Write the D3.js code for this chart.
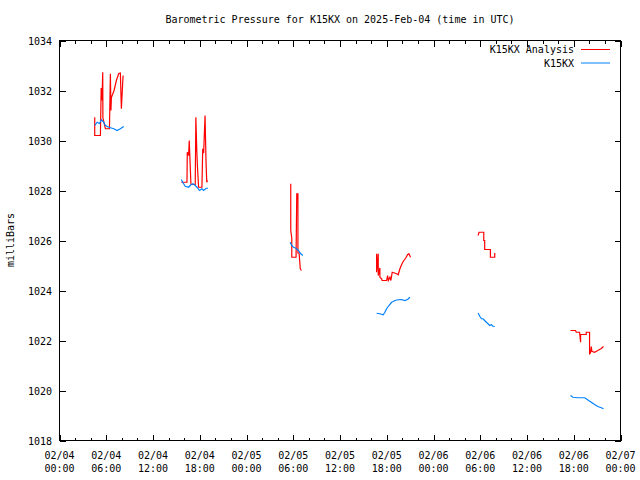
<!DOCTYPE html>
<html><head><meta charset="utf-8">
<script src="https://cdn.jsdelivr.net/npm/d3@7"></script>
<style>
body{margin:0;background:#fff;}
svg text{font-family:"DejaVu Sans Mono","Liberation Mono",monospace;font-size:10px;fill:#000;}
</style>
</head><body>
<svg id="chart" width="640" height="480"></svg>
<script>
// ---- data (hours after 2025-02-04 00:00 UTC; null = gap) ----
const titleText = "Barometric Pressure for K15KX on 2025-Feb-04 (time in UTC)";
const yLabel = "milliBars";
const seriesNames = ["K15KX Analysis", "K15KX"];
const seriesColors = ["#ff0000", "#0080ff"];
const yTicks = [1018,1020,1022,1024,1026,1028,1030,1032,1034];

const analysisHours = [
  4.52,4.52,5.25,5.35,5.45,5.55,5.57,5.89,6.41,6.53,6.60,6.66,7.0,7.3,7.6,7.81,7.94,8.16, null,
  15.63,16.36,16.40,16.57,16.65,16.75,16.87,17.42,17.50,17.62,17.70,17.85,18.28,18.38,18.50,18.68,18.80,18.90,19.0, null,
  29.68,29.68,29.81,29.81,30.36,30.45,30.60,30.60,30.75,30.90,31.05, null,
  40.70,40.70,40.91,40.91,41.12,41.12,41.34,41.40,41.98,42.11,42.20,42.41,42.53,42.70,43.26,43.47,43.69,43.90,44.11,44.42,44.67,44.84,45.06, null,
  53.72,53.84,54.45,54.45,54.57,54.57,55.30,55.30,55.86,55.86, null,
  65.59,66.23,66.32,66.75,66.88,66.88,67.6,67.6,68.03,68.03,68.15,68.25,68.33,68.67,69.09,69.53,69.82
];
const analysisValues = [
  1030.93,1030.2,1030.2,1032.1,1031.6,1032.73,1030.9,1030.47,1030.47,1032.67,1031.2,1031.72,1032.0,1032.4,1032.68,1032.7,1031.27,1032.6, null,
  1028.33,1028.33,1029.53,1029.4,1030.0,1029.2,1028.24,1028.24,1030.93,1029.6,1029.0,1028.13,1028.13,1029.67,1029.5,1031.0,1029.2,1028.33,1028.4, null,
  1028.27,1026.4,1026.1,1025.33,1025.33,1027.87,1027.87,1025.5,1025.5,1024.87,1024.8, null,
  1025.47,1024.73,1025.47,1024.6,1024.9,1024.53,1024.47,1024.4,1024.4,1024.6,1024.4,1024.53,1024.4,1024.73,1024.67,1024.63,1024.87,1025.03,1025.16,1025.29,1025.43,1025.47,1025.33, null,
  1026.2,1026.33,1026.33,1026.0,1026.0,1025.64,1025.64,1025.33,1025.33,1025.5, null,
  1022.4,1022.4,1022.33,1022.33,1021.93,1022.24,1022.24,1022.33,1022.33,1021.47,1021.5,1021.76,1021.57,1021.53,1021.6,1021.68,1021.76
];

const stationHours = [
  4.52,4.83,5.12,5.38,5.68,5.89,6.32,6.96,7.39,7.81,8.24, null,
  15.63,15.85,16.14,16.57,16.87,17.13,17.42,17.64,17.97,18.28,18.49,18.83,19.05, null,
  29.59,29.81,30.02,30.36,30.66,30.97,31.22, null,
  40.70,41.12,41.55,41.76,41.98,42.28,42.62,42.83,43.05,43.47,43.90,44.32,44.67,44.97, null,
  53.72,53.94,54.15,54.36,54.57,54.79,55.0,55.22,55.43,55.64,55.86, null,
  65.59,65.89,66.53,67.39,67.6,67.9,68.25,68.67,69.09,69.53,69.82
];
const stationValues = [
  1030.6,1030.73,1030.68,1030.83,1030.73,1030.6,1030.53,1030.47,1030.4,1030.47,1030.56, null,
  1028.44,1028.31,1028.17,1028.13,1028.23,1028.27,1028.2,1028.13,1028.0,1028.07,1028.0,1028.09,1028.09, null,
  1025.93,1025.8,1025.73,1025.69,1025.6,1025.47,1025.4, null,
  1023.09,1023.07,1023.03,1023.13,1023.27,1023.4,1023.53,1023.56,1023.6,1023.63,1023.64,1023.6,1023.64,1023.73, null,
  1023.1,1022.97,1022.87,1022.87,1022.8,1022.73,1022.67,1022.6,1022.63,1022.57,1022.56, null,
  1019.8,1019.73,1019.71,1019.71,1019.67,1019.6,1019.53,1019.44,1019.36,1019.31,1019.27
];

// ---- chart ----
const svg = d3.select("#chart");
const L = 59.5, R = 620.5, T = 40.5, B = 440.5;
const t0 = new Date(Date.UTC(2025,1,4,0,0));
const t1 = new Date(Date.UTC(2025,1,7,0,0));
const x = d3.scaleUtc().domain([t0, t1]).range([L, R]);
const y = d3.scaleLinear().domain([1018, 1034]).range([B, T]);
const toDate = h => new Date(t0.getTime() + h * 3600000);

function pts(hs, vs){ return hs.map((h,i)=> h==null ? null : {t: toDate(h), v: vs[i]}); }
const series = [pts(analysisHours, analysisValues), pts(stationHours, stationValues)];

const major = x.ticks(d3.utcHour.every(6));
const minor = x.ticks(d3.utcHour.every(2));

// axes (ticks inward)
const gB = svg.append("g").attr("transform", `translate(0,${B})`)
  .call(d3.axisBottom(x).tickValues(minor).tickSizeInner(-3).tickSizeOuter(0).tickFormat(""));
const gB2 = svg.append("g").attr("transform", `translate(0,${B})`)
  .call(d3.axisBottom(x).tickValues(major).tickSizeInner(-6).tickSizeOuter(0).tickFormat(""));
const gT = svg.append("g").attr("transform", `translate(0,${T})`)
  .call(d3.axisTop(x).tickValues(minor).tickSizeInner(-3).tickSizeOuter(0).tickFormat(""));
const gT2 = svg.append("g").attr("transform", `translate(0,${T})`)
  .call(d3.axisTop(x).tickValues(major).tickSizeInner(-6).tickSizeOuter(0).tickFormat(""));
const gL = svg.append("g").attr("transform", `translate(${L},0)`)
  .call(d3.axisLeft(y).tickValues(yTicks).tickSizeInner(-6).tickSizeOuter(0).tickFormat(""));
const gR = svg.append("g").attr("transform", `translate(${R},0)`)
  .call(d3.axisRight(y).tickValues(yTicks).tickSizeInner(-6).tickSizeOuter(0).tickFormat(""));
svg.selectAll(".domain").remove();
svg.selectAll(".tick line").attr("stroke", "#000").attr("shape-rendering", "crispEdges");

// border
svg.append("rect").attr("x", L).attr("y", T).attr("width", R - L).attr("height", B - T)
  .attr("fill", "none").attr("stroke", "#000").attr("shape-rendering", "crispEdges");

// y tick labels
svg.append("g").selectAll("text").data(yTicks).join("text")
  .attr("x", 52).attr("y", d => y(d) + 4).attr("text-anchor", "end").text(d => d);

// x tick labels
const fD = d3.utcFormat("%m/%d"), fT = d3.utcFormat("%H:%M");
const xl = svg.append("g").selectAll("text").data(major).join("text")
  .attr("text-anchor", "middle");
xl.append("tspan").attr("x", d => x(d)).attr("y", 459).text(d => fD(d));
xl.append("tspan").attr("x", d => x(d)).attr("y", 472).text(d => fT(d));

// title
svg.append("text").attr("x", 340).attr("y", 23).attr("text-anchor", "middle").text(titleText);
// y label
svg.append("text").attr("transform", "translate(14,240) rotate(-90)").attr("text-anchor", "middle").text(yLabel);

// lines
const line = d3.line().defined(d => d != null).x(d => x(d.t)).y(d => y(d.v));
series.forEach((s, i) => {
  svg.append("path").datum(s).attr("fill", "none").attr("stroke", seriesColors[i])
    .attr("stroke-width", 1.2).attr("d", line);
});

// legend
seriesNames.forEach((n, i) => {
  const ly = 49 + i * 13.5;
  svg.append("text").attr("x", 574).attr("y", ly + 4).attr("text-anchor", "end").text(n);
  svg.append("line").attr("x1", 581).attr("x2", 610).attr("y1", ly + 0.5).attr("y2", ly + 0.5)
    .attr("stroke", seriesColors[i]).attr("stroke-width", 1);
});
</script>
</body></html>
